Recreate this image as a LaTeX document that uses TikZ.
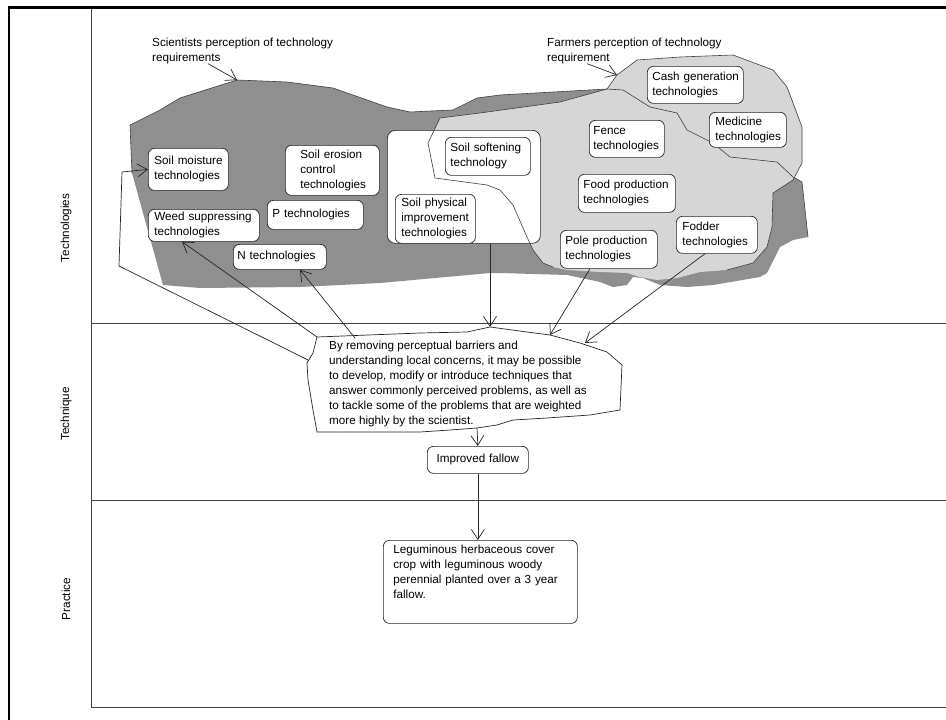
\documentclass[tikz,border=0pt]{standalone}
\usepackage{fontspec}
\setmainfont{Liberation Sans}
\usetikzlibrary{arrows.meta,calc}
% one unbreakable line of box text
\newcommand{\kl}[1]{\mbox{#1}}
\begin{document}
\begin{tikzpicture}[x=1pt,y=-1pt,
  every node/.style={font=\fontsize{11.7}{15}\selectfont, text=black},
  tbox/.style={draw=black!85, line width=0.7pt, rounded corners=6pt, fill=white,
    align=left, anchor=north west, inner ysep=0pt},
  label/.style={inner sep=0pt, align=left, anchor=base west},
  axislabel/.style={rotate=90, inner sep=0pt},
  arr/.style={draw=black!85, line width=0.7pt,
    -{Straight Barb[length=10pt,width=13pt,line width=0.7pt]}},
  rule/.style={draw=black!75, line width=0.9pt},
  sciarea/.style={fill=black!44},
  farmarea/.style={fill=black!16},
  outline/.style={draw=black!75, line width=0.6pt}
]
\useasboundingbox (0,0) rectangle (946,720);
\fill[white] (0,0) rectangle (946,720);

% frame and axes
\draw[line width=2.5pt] (9,720) -- (9,7.5) -- (946,7.5);
\draw[rule] (91,9) -- (91,707) -- (946,707);
\draw[rule] (91,323) -- (946,323);
\draw[rule] (91,500) -- (946,500);

\node[axislabel] (lTech) at (66,228) {Technologies};
\node[axislabel] (lTechq) at (66,414) {Technique};
\node[axislabel] (lPrac) at (66,599) {Practice};

% scientists' area
\path[sciarea] (130,125) -- (160,110) -- (180,98) -- (237,80) -- (287,82) -- (333,88)
  -- (387,107) -- (410,112) -- (453,110) -- (477,98) -- (500,95) -- (607,89) -- (623,90)
  -- (650,107) -- (677,113) -- (687,130) -- (713,143) -- (730,157) -- (777,162)
  -- (793,177) -- (802,182) -- (808,237) -- (793,240) -- (780,247) -- (767,273)
  -- (760,277) -- (713,285) -- (687,287) -- (660,285) -- (643,278) -- (633,277)
  -- (627,285) -- (613,287) -- (600,282) -- (567,275) -- (500,273) -- (490,273)
  -- (380,283) -- (300,287) -- (200,288) -- (163,285) -- (143,213) -- (132,173) -- cycle;

% farmers' area
\path[farmarea] (617,75) -- (637,60) -- (680,57) -- (733,55) -- (773,70) -- (787,87)
  -- (802,127) -- (802,163) -- (793,180) -- (773,193) -- (772,227) -- (767,247)
  -- (753,263) -- (727,270) -- (700,272) -- (677,278) -- (657,280) -- (640,277)
  -- (627,273) -- (600,272) -- (567,270) -- (553,267) -- (543,263) -- (533,250)
  -- (527,237) -- (513,205) -- (500,190) -- (487,185) -- (435,178) -- (428,143)
  -- (440,118) -- (480,113) -- (560,102) -- (607,89) -- cycle;

% shared soil physical group
\node[draw=black!85, line width=0.7pt, rounded corners=8pt, fill=white, anchor=north west,
  minimum width=153pt, minimum height=113pt, inner sep=0pt] (container) at (387,130) {};

% outlines
\draw[outline] (617,75) -- (637,60) -- (680,57) -- (733,55) -- (773,70) -- (787,87)
  -- (802,127) -- (802,163) -- (793,180) -- (773,193) -- (772,227) -- (767,247)
  -- (753,263) -- (727,270);
\draw[outline] (553,267) -- (543,263) -- (533,250)
  -- (527,237) -- (513,205) -- (500,190) -- (487,185) -- (435,178) -- (428,143)
  -- (440,118) -- (480,113) -- (560,102) -- (607,89) -- (617,75);
\draw[outline] (132,173) -- (130,125) -- (160,110) -- (180,98) -- (237,80) -- (287,82) -- (333,88)
  -- (387,107) -- (410,112) -- (453,110) -- (477,98) -- (500,95) -- (607,89) -- (623,90)
  -- (650,107) -- (677,113) -- (687,130) -- (713,143) -- (730,157) -- (777,162)
  -- (793,177) -- (802,182) -- (808,237);

% technology boxes
\node[tbox, text width=68pt, inner xsep=6pt, minimum height=42pt] (smoist) at (148,148) {\kl{Soil moisture}\\\kl{technologies}};
\node[tbox, text width=64pt, inner xsep=15pt, minimum height=50pt] (serosion) at (285,145) {\kl{Soil erosion}\\\kl{control}\\\kl{technologies}};
\node[tbox, text width=86pt, inner xsep=5pt, minimum height=29pt] (ptech) at (267,200) {\kl{P technologies}};
\node[tbox, text width=99pt, inner xsep=6pt, minimum height=32pt] (weed) at (148,209) {\kl{Weed suppressing}\\\kl{technologies}};
\node[tbox, text width=85pt, inner xsep=4pt, minimum height=25pt] (ntech) at (233,244) {\kl{N technologies}};
\node[tbox, text width=68pt, inner xsep=6pt, minimum height=49pt] (sphys) at (395,194) {\kl{Soil physical}\\\kl{improvement}\\\kl{technologies}};
\node[tbox, text width=75pt, inner xsep=5pt, minimum height=38pt] (ssoft) at (445,137) {\kl{Soil softening}\\\kl{technology}};
\node[tbox, text width=86pt, inner xsep=5pt, minimum height=37pt] (cash) at (647,66) {\kl{Cash generation}\\\kl{technologies}};
\node[tbox, text width=67pt, inner xsep=4pt, minimum height=37pt] (fence) at (589,120) {\kl{Fence}\\\kl{technologies}};
\node[tbox, text width=65pt, inner xsep=6pt, minimum height=35pt] (medicine) at (709,112) {\kl{Medicine}\\\kl{technologies}};
\node[tbox, text width=87pt, inner xsep=5pt, minimum height=38pt] (food) at (578,174) {\kl{Food production}\\\kl{technologies}};
\node[tbox, text width=87pt, inner xsep=5pt, minimum height=38pt] (pole) at (560,230) {\kl{Pole production}\\\kl{technologies}};
\node[tbox, text width=69pt, inner xsep=6pt, minimum height=37pt] (fodder) at (676,216) {\kl{Fodder}\\\kl{technologies}};

% perception labels (base anchor sits on the last line)
\node[label] (sci) at (152,61) {Scientists perception of technology\\requirements};
\node[label] (far) at (547,61) {Farmers perception of technology\\requirement};
\coordinate (sTip) at (237,80);
\coordinate (fTip) at (617,75);
\draw[arr] ($(sci.south west)+(56,0)$) -- (sTip);
\draw[arr] ($(far.south west)+(40,0)$) -- (fTip);

% technique statement
\draw[draw=black!85, line width=0.7pt, fill=white]
  (317,337) -- (420,333) -- (467,332) -- (490,327) -- (527,332) -- (550,335)
  -- (580,343) -- (607,352) -- (622,365) -- (620,410) -- (590,415) -- (547,418)
  -- (513,420) -- (497,425) -- (477,428) -- (450,430) -- (420,432) -- (360,432)
  -- (317,432) -- (313,410) -- (308,380) -- (307,363) -- (313,353) -- cycle;
\node[label] (msg) at (329,424) {By removing perceptual barriers and\\
  understanding local concerns, it may be possible\\
  to develop, modify or introduce techniques that\\
  answer commonly perceived problems, as well as\\
  to tackle some of the problems that are weighted\\
  more highly by the scientist.};

\coordinate (pTop) at (490,327);
\coordinate (pPole) at (550,335);
\coordinate (pFod) at (585,343);
\coordinate (pWeed) at (317,337);
\coordinate (pN) at (355,338);
\coordinate (pLeft) at (308,360);
\coordinate (pBot) at (477,428);
\coordinate (bendA) at (119,266);
\coordinate (bendB) at (122,172);

% practice level
\node[tbox, text width=91pt, inner xsep=5pt, minimum height=27pt, align=center] (fallow) at (427,446) {Improved fallow};
\node[tbox, text width=174pt, inner xsep=10pt, minimum height=83pt] (legum) at (383,540)
  {\kl{Leguminous herbaceous cover}\\\kl{crop with leguminous woody}\\\kl{perennial planted over a 3 year}\\fallow.\\\strut};

% connectors
\draw[arr] (container.south -| pTop) -- (pTop);
\draw[arr] ($(pole.south west)+(30,0)$) -- (pPole);
\draw[arr] ($(fodder.south west)+(29,0)$) -- (pFod);
\draw[arr] (pWeed) -- ($(weed.south west)+(34,0)$);
\draw[arr] (pN) -- ($(ntech.south west)+(67,0)$);
\draw[arr] (pLeft) -- (bendA) -- (bendB) -- (smoist.west);
\draw[arr] (pBot) -- (fallow.north);
\draw[arr] (fallow.south) -- (fallow.south |- legum.north);
\end{tikzpicture}
\end{document}
